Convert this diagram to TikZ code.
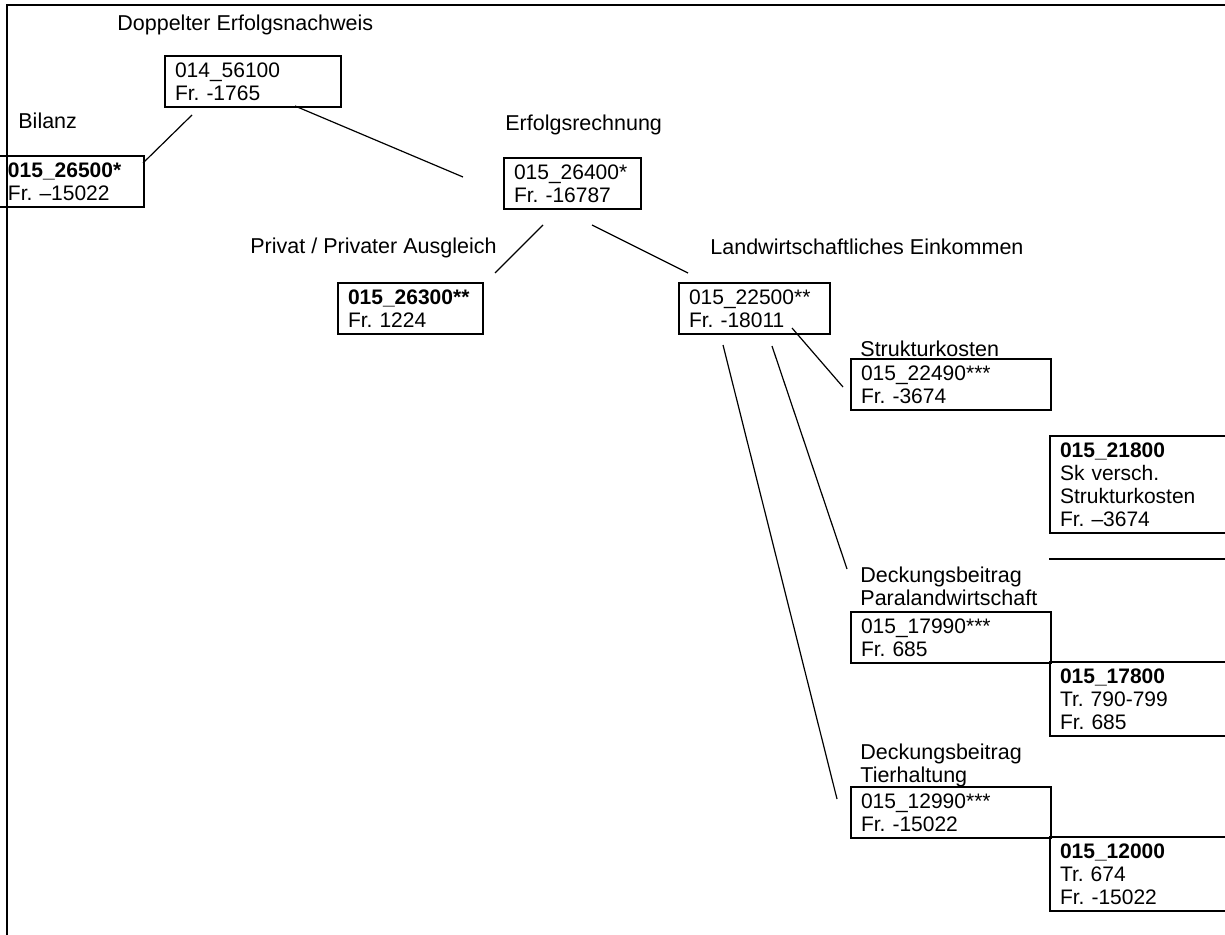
\documentclass[tikz,border=0pt]{standalone}
\usepackage{fontspec}
\setmainfont{Liberation Sans}
\usepackage{tikz}
\frenchspacing

\begin{document}
\begin{tikzpicture}[x=0.5pt, y=-0.5pt,
    box/.style={draw, line width=1pt, anchor=north west, align=left,
                inner xsep=5pt, inner ysep=3.3pt,
                font=\fontsize{10.5}{11.5}\selectfont},
    caption/.style={anchor=north west, inner sep=0pt, align=left,
                font=\fontsize{10.75}{10}\selectfont},
    link/.style={line width=0.6pt},
  ]
  \useasboundingbox (0,0) rectangle (1225,935);
  \clip (0,0) rectangle (1225,935);

  % frame
  \coordinate (frameBL) at (7,945);
  \coordinate (frameTL) at (7,5);
  \coordinate (frameTR) at (1235,5);
  \draw[line width=1pt] (frameBL) -- (frameTL) -- (frameTR);

  % captions
  \node[caption] (capDoppelt) at (117,15) {Doppelter Erfolgsnachweis};
  \node[caption] (capBilanz) at (18,113) {Bilanz};
  \node[caption] (capErfolg) at (505,115) {Erfolgsrechnung};
  \node[caption] (capPrivat) at (250,238) {Privat / Privater Ausgleich};
  \node[caption] (capLandw) at (710,239) {Landwirtschaftliches Einkommen};
  \node[caption] (capStruktur) at (860,341) {Strukturkosten};
  \node[caption] (capPara) at (860,567) {Deckungsbeitrag\\Paralandwirtschaft};
  \node[caption] (capTier) at (860,744) {Deckungsbeitrag\\Tierhaltung};

  % accounts
  \node[box, text width=78pt] (b014) at (164,55) {014\_56100\\Fr. -1765};
  \node[box, text width=63pt] (b26500) at (-3,155) {\textbf{015\_26500*}\\Fr. –15022};
  \node[box, text width=58.5pt] (b26400) at (503,157) {015\_26400*\\Fr. -16787};
  \node[box, text width=62.5pt] (b26300) at (337,282) {\textbf{015\_26300**}\\Fr. 1224};
  \node[box, text width=65.5pt] (b22500) at (678,282) {015\_22500**\\Fr. -18011};
  \node[box, text width=90pt] (b22490) at (850,358) {015\_22490***\\Fr. -3674};
  \node[box, text width=115.5pt] (b21800) at (1049,435)
    {\textbf{015\_21800}\\Sk versch.\\Strukturkosten\\Fr. –3674};
  \node[box, text width=90pt] (b17990) at (850,611) {015\_17990***\\Fr. 685};
  \node[box, text width=115.5pt] (b17800) at (1049,661)
    {\textbf{015\_17800}\\Tr. 790-799\\Fr. 685};
  \node[box, text width=90pt] (b12990) at (850,786) {015\_12990***\\Fr. -15022};
  \node[box, text width=115.5pt] (b12000) at (1049,836)
    {\textbf{015\_12000}\\Tr. 674\\Fr. -15022};

  % loose line ends
  \coordinate (bilA) at (143,163);   \coordinate (bilB) at (192,115);
  \coordinate (erfA) at (295,106);   \coordinate (erfB) at (463,177);
  \coordinate (priA) at (543,225);   \coordinate (priB) at (495,273);
  \coordinate (lanA) at (592,225);   \coordinate (lanB) at (688,273);
  \coordinate (strA) at (792,328);   \coordinate (strB) at (843,387);
  \coordinate (parA) at (772,346);   \coordinate (parB) at (847,569);
  \coordinate (tieA) at (723,345);   \coordinate (tieB) at (837,799);
  \coordinate (sepA) at (1049,559);  \coordinate (sepB) at (1235,559);

  \draw[link] (bilA) -- (bilB);
  \draw[link] (erfA) -- (erfB);
  \draw[link] (priA) -- (priB);
  \draw[link] (lanA) -- (lanB);
  \draw[link] (strA) -- (strB);
  \draw[link] (parA) -- (parB);
  \draw[link] (tieA) -- (tieB);
  \draw[line width=1pt] (sepA) -- (sepB);
\end{tikzpicture}
\end{document}
